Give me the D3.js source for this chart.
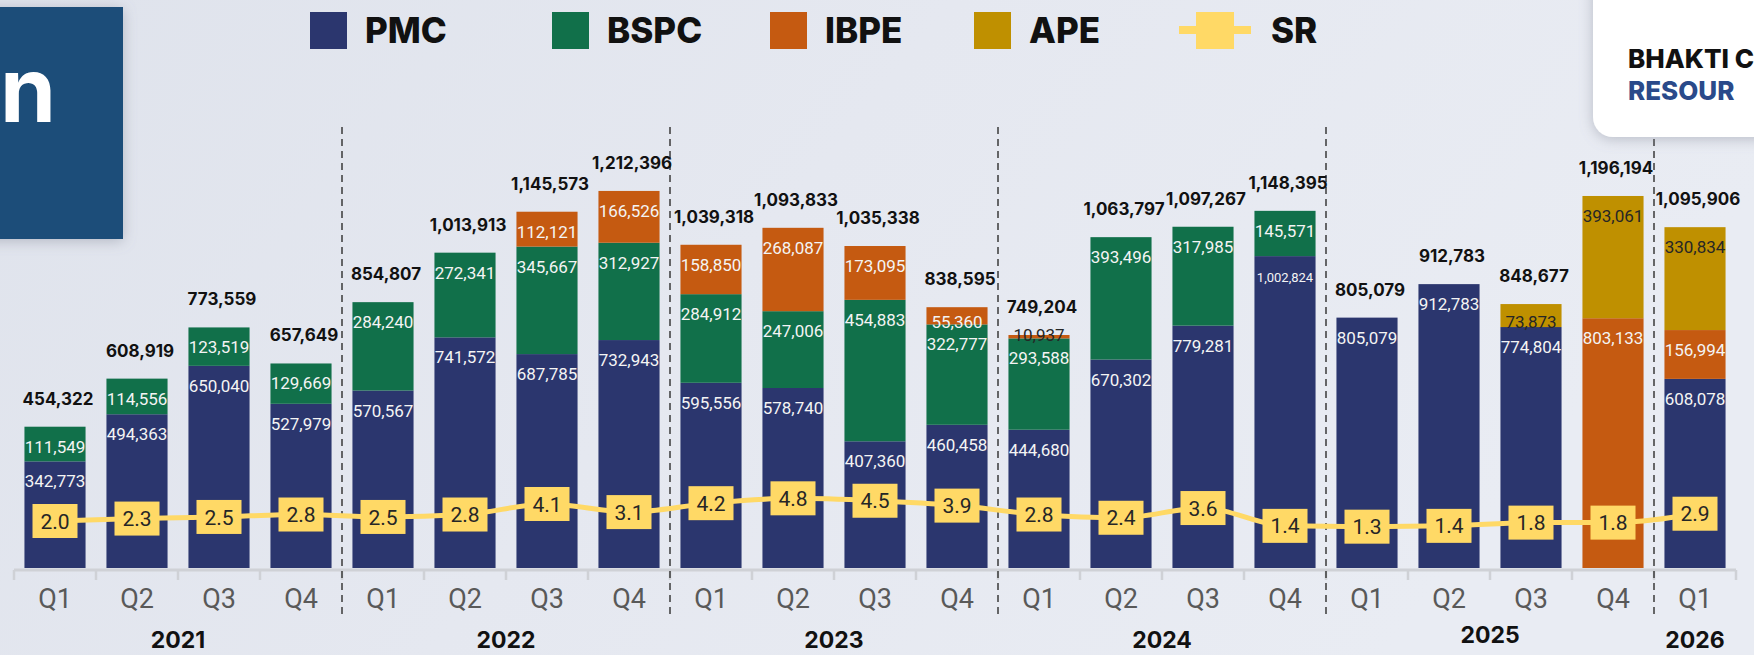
<!DOCTYPE html>
<html>
<head>
<meta charset="utf-8">
<script src="https://cdn.jsdelivr.net/npm/d3@7/dist/d3.min.js"></script>
<style>
  body { margin: 0; background: #e5e9f1; overflow: hidden; }
  svg { display: block; }
</style>
</head>
<body>
<div id="chart"></div>
<script>
// data
const quarters = ["Q1","Q2","Q3","Q4","Q1","Q2","Q3","Q4","Q1","Q2","Q3","Q4","Q1","Q2","Q3","Q4","Q1","Q2","Q3","Q4","Q1"];
const periodYear = ["2021","2021","2021","2021","2022","2022","2022","2022","2023","2023","2023","2023","2024","2024","2024","2024","2025","2025","2025","2025","2026"];
const years = ["2021","2022","2023","2024","2025","2026"];

const pmc  = [342773, 494363, 650040, 527979, 570567, 741572, 687785, 732943, 595556, 578740, 407360, 460458, 444680, 670302, 779281, 1002824, 805079, 912783, 774804, 0, 608078];
const bspc = [111549, 114556, 123519, 129669, 284240, 272341, 345667, 312927, 284912, 247006, 454883, 322777, 293588, 393496, 317985, 145571, 0, 0, 0, 0, 0];
const ibpe = [0, 0, 0, 0, 0, 0, 112121, 166526, 158850, 268087, 173095, 55360, 10937, 0, 0, 0, 0, 0, 0, 803133, 156994];
const ape  = [0, 0, 0, 0, 0, 0, 0, 0, 0, 0, 0, 0, 0, 0, 0, 0, 0, 0, 73873, 393061, 330834];
const totals = [454322, 608919, 773559, 657649, 854807, 1013913, 1145573, 1212396, 1039318, 1093833, 1035338, 838595, 749204, 1063797, 1097267, 1148395, 805079, 912783, 848677, 1196194, 1095906];
const sr = [2.0, 2.3, 2.5, 2.8, 2.5, 2.8, 4.1, 3.1, 4.2, 4.8, 4.5, 3.9, 2.8, 2.4, 3.6, 1.4, 1.3, 1.4, 1.8, 1.8, 2.9];

const seriesNames = ["PMC", "BSPC", "IBPE", "APE"];
const seriesColors = ["#2b366e", "#11704a", "#c55a11", "#bf9000"];

const width = 1754, height = 655;

const rows = quarters.map((q, i) => ({
    id: periodYear[i] + q, q: q, year: periodYear[i],
    PMC: pmc[i], BSPC: bspc[i], IBPE: ibpe[i], APE: ape[i],
    total: totals[i], sr: sr[i]
}));

const svg = d3.select("#chart")
    .append("svg")
    .attr("width", width)
    .attr("height", height);

const defs = svg.append("defs");
const bg = defs.append("linearGradient").attr("id", "bg")
    .attr("x1", 0).attr("y1", 0).attr("x2", 1).attr("y2", 0.3);
bg.append("stop").attr("offset", 0).attr("stop-color", "#dfe3ec");
bg.append("stop").attr("offset", 0.5).attr("stop-color", "#e5e8f0");
bg.append("stop").attr("offset", 1).attr("stop-color", "#e9ecf3");

const shadow = defs.append("filter").attr("id", "shadow")
    .attr("x", -0.5).attr("y", -0.5).attr("width", 2).attr("height", 2);
shadow.append("feDropShadow")
    .attr("dx", 0).attr("dy", 2).attr("stdDeviation", 7)
    .attr("flood-color", "#7a8091").attr("flood-opacity", 0.45);

svg.append("rect").attr("width", width).attr("height", height).attr("fill", "url(#bg)");

// scales
const x = d3.scaleBand()
    .domain(rows.map(d => d.id))
    .range([14, 1736])
    .paddingInner(0.255)
    .paddingOuter(0.1275);

const y = d3.scaleLinear()
    .domain([0, 1250000])
    .range([568, 568 - 1250000 * 0.000311]);

const y2 = d3.scaleLinear()
    .domain([0, 5])
    .range([537.2, 496.7]);

const color = d3.scaleOrdinal().domain(seriesNames).range(seriesColors);

const step = x.step();
const boundary = id => x(id) - step * x.paddingInner() / 2;

// x axis: baseline + boundary ticks, quarter labels in the middle
const axisG = svg.append("g");
axisG.append("line")
    .attr("x1", 14).attr("x2", 1736)
    .attr("y1", 570).attr("y2", 570)
    .attr("stroke", "#cfd1d6").attr("stroke-width", 3);
axisG.selectAll("line.tick")
    .data(rows.map(d => boundary(d.id)).concat([boundary(rows[rows.length - 1].id) + step]))
    .join("line")
    .attr("class", "tick")
    .attr("x1", d => d).attr("x2", d => d)
    .attr("y1", 570).attr("y2", 580)
    .attr("stroke", "#cfd1d6").attr("stroke-width", 2.5);

const xAxis = d3.axisBottom(x).tickSize(0).tickFormat((d, i) => rows[i].q);
svg.append("g")
    .attr("transform", "translate(0,586)")
    .call(xAxis)
    .call(g => g.select(".domain").remove())
    .selectAll("text")
    .attr("font-family", "Roboto, sans-serif")
    .attr("font-size", 27)
    .attr("fill", "#595959");

// year labels under each group
svg.selectAll("text.year")
    .data(years)
    .join("text")
    .attr("class", "year")
    .attr("x", yr => {
        const ids = rows.filter(d => d.year === yr).map(d => d.id);
        return (boundary(ids[0]) + boundary(ids[ids.length - 1]) + step) / 2;
    })
    .attr("y", yr => yr === "2025" ? 643 : 648)
    .attr("text-anchor", "middle")
    .attr("font-family", "Inter, sans-serif")
    .attr("font-weight", 700)
    .attr("font-size", 23)
    .attr("fill", "#111")
    .text(yr => yr);

// dashed year separators
svg.selectAll("line.sep")
    .data(years.slice(1))
    .join("line")
    .attr("class", "sep")
    .attr("x1", yr => boundary(rows.find(d => d.year === yr).id))
    .attr("x2", yr => boundary(rows.find(d => d.year === yr).id))
    .attr("y1", 127).attr("y2", 615)
    .attr("stroke", "#3a3a3a").attr("stroke-width", 1.5)
    .attr("stroke-dasharray", "7,5");

// stacked bars
const stacked = d3.stack().keys(seriesNames)(rows);

const layers = svg.selectAll("g.layer")
    .data(stacked)
    .join("g")
    .attr("class", "layer")
    .attr("fill", d => color(d.key));

layers.selectAll("rect")
    .data(d => d.filter(s => s[1] > s[0]))
    .join("rect")
    .attr("x", s => x(s.data.id))
    .attr("width", x.bandwidth())
    .attr("y", s => y(s[1]))
    .attr("height", s => y(s[0]) - y(s[1]));

// segment labels
const segs = [];
stacked.forEach(layer => layer.forEach(s => {
    if (s[1] > s[0]) segs.push({ key: layer.key, id: s.data.id, v: s[1] - s[0], top: y(s[1]), h: y(s[0]) - y(s[1]) });
}));

svg.selectAll("text.seg")
    .data(segs)
    .join("text")
    .attr("class", "seg")
    .attr("x", d => x(d.id) + x.bandwidth() / 2)
    .attr("y", d => d.top + (d.h < 8 ? 6 : Math.min(26, d.h / 2 + 12)))
    .attr("text-anchor", "middle")
    .attr("font-family", "Roboto, sans-serif")
    .attr("font-size", d => d3.format(",")(d.v).length > 7 ? 13 : 17)
    .attr("fill", d => (d.key === "APE" || d.h < 8) ? "#262626" : "#f4f4f4")
    .text(d => d3.format(",")(d.v));

// totals above bars
svg.selectAll("text.total")
    .data(rows)
    .join("text")
    .attr("class", "total")
    .attr("x", d => x(d.id) + x.bandwidth() / 2 + 3)
    .attr("y", d => y(d.total) - 22)
    .attr("text-anchor", "middle")
    .attr("font-family", "Inter, sans-serif")
    .attr("font-weight", 700)
    .attr("font-size", 17)
    .attr("fill", "#111")
    .text(d => d3.format(",")(d.total));

// SR line with boxed markers
const line = d3.line()
    .x(d => x(d.id) + x.bandwidth() / 2)
    .y(d => y2(d.sr))
    .curve(d3.curveMonotoneX);

svg.append("path")
    .datum(rows)
    .attr("d", line)
    .attr("fill", "none")
    .attr("stroke", "#ffd966")
    .attr("stroke-width", 5);

const marks = svg.selectAll("g.sr")
    .data(rows)
    .join("g")
    .attr("class", "sr")
    .attr("transform", d => `translate(${x(d.id) + x.bandwidth() / 2},${y2(d.sr)})`);

marks.append("rect")
    .attr("x", -22.5).attr("y", -17)
    .attr("width", 45).attr("height", 34)
    .attr("fill", "#ffd966");

marks.append("text")
    .attr("text-anchor", "middle")
    .attr("dy", "0.36em")
    .attr("font-family", "Roboto, sans-serif")
    .attr("font-size", 21)
    .attr("fill", "#262626")
    .text(d => d3.format(".1f")(d.sr));

// legend
const legendX = [310, 552, 770, 974];
const legend = svg.append("g");
seriesNames.forEach((name, i) => {
    legend.append("rect")
        .attr("x", legendX[i]).attr("y", 12)
        .attr("width", 37).attr("height", 37)
        .attr("fill", color(name));
    legend.append("text")
        .attr("x", legendX[i] + 55).attr("y", 43)
        .attr("font-family", "Inter, sans-serif")
        .attr("font-weight", 800)
        .attr("font-size", 35)
        .attr("fill", "#111")
        .text(name);
});
legend.append("line")
    .attr("x1", 1179).attr("x2", 1251)
    .attr("y1", 30).attr("y2", 30)
    .attr("stroke", "#ffd966").attr("stroke-width", 8);
legend.append("rect")
    .attr("x", 1196).attr("y", 12)
    .attr("width", 38).attr("height", 37)
    .attr("fill", "#ffd966");
legend.append("text")
    .attr("x", 1271).attr("y", 43)
    .attr("font-family", "Inter, sans-serif")
    .attr("font-weight", 800)
    .attr("font-size", 35)
    .attr("fill", "#111")
    .text("SR");

// title block on the left (cut off in the source)
svg.append("rect")
    .attr("x", -20).attr("y", 7)
    .attr("width", 143).attr("height", 232)
    .attr("fill", "#1f4e79")
    .attr("filter", "url(#shadow)");
svg.append("text")
    .attr("x", 0).attr("y", 122)
    .attr("font-family", "Inter, sans-serif")
    .attr("font-weight", 700)
    .attr("font-size", 90)
    .attr("fill", "#fff")
    .text("n");

// logo card on the right
svg.append("rect")
    .attr("x", 1593).attr("y", -30)
    .attr("width", 200).attr("height", 167)
    .attr("rx", 20)
    .attr("fill", "#fff")
    .attr("filter", "url(#shadow)");
svg.append("text")
    .attr("x", 1628).attr("y", 68)
    .attr("font-family", "Inter, sans-serif")
    .attr("font-weight", 800)
    .attr("font-size", 26)
    .attr("fill", "#111")
    .text("BHAKTI C");
svg.append("text")
    .attr("x", 1628).attr("y", 100)
    .attr("font-family", "Inter, sans-serif")
    .attr("font-weight", 800)
    .attr("font-size", 26)
    .attr("fill", "#2a4a8a")
    .text("RESOUR");
</script>
</body>
</html>
